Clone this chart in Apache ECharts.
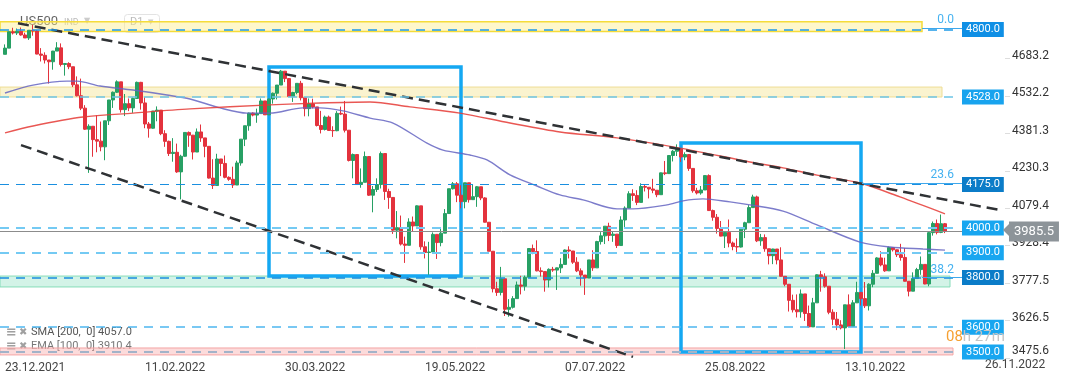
<!DOCTYPE html>
<html><head><meta charset="utf-8">
<script src="https://cdn.jsdelivr.net/npm/echarts@6/dist/echarts.min.js"></script>
<style>html,body{margin:0;padding:0;background:#fff}#c{width:1072px;height:382px}</style>
</head><body><div id="c"></div>
<script>
// ---------- data ----------
const dates = [
'23.12.2021','27.12.2021','28.12.2021','29.12.2021','30.12.2021','31.12.2021',
'03.01.2022','04.01.2022','05.01.2022','06.01.2022','07.01.2022','10.01.2022','11.01.2022','12.01.2022','13.01.2022','14.01.2022','17.01.2022','18.01.2022','19.01.2022','20.01.2022','21.01.2022','24.01.2022','25.01.2022','26.01.2022','27.01.2022','28.01.2022','31.01.2022',
'01.02.2022','02.02.2022','03.02.2022','04.02.2022','07.02.2022','08.02.2022','09.02.2022','10.02.2022','11.02.2022','14.02.2022','15.02.2022','16.02.2022','17.02.2022','18.02.2022','21.02.2022','22.02.2022','23.02.2022','24.02.2022','25.02.2022','28.02.2022',
'01.03.2022','02.03.2022','03.03.2022','04.03.2022','07.03.2022','08.03.2022','09.03.2022','10.03.2022','11.03.2022','13.03.2022','14.03.2022','15.03.2022','16.03.2022','17.03.2022','18.03.2022','20.03.2022','21.03.2022','22.03.2022','23.03.2022','24.03.2022','25.03.2022','28.03.2022','29.03.2022','30.03.2022','31.03.2022',
'01.04.2022','04.04.2022','05.04.2022','06.04.2022','07.04.2022','08.04.2022','11.04.2022','12.04.2022','13.04.2022','14.04.2022','18.04.2022','19.04.2022','20.04.2022','21.04.2022','22.04.2022','25.04.2022','26.04.2022','27.04.2022','28.04.2022','29.04.2022',
'02.05.2022','03.05.2022','04.05.2022','05.05.2022','06.05.2022','09.05.2022','10.05.2022','11.05.2022','12.05.2022','13.05.2022','16.05.2022','17.05.2022','18.05.2022','19.05.2022','20.05.2022','23.05.2022','24.05.2022','25.05.2022','26.05.2022','27.05.2022','30.05.2022','31.05.2022',
'01.06.2022','02.06.2022','03.06.2022','06.06.2022','07.06.2022','08.06.2022','09.06.2022','10.06.2022','13.06.2022','14.06.2022','15.06.2022','16.06.2022','17.06.2022','20.06.2022','21.06.2022','22.06.2022','23.06.2022','24.06.2022','27.06.2022','28.06.2022','29.06.2022','30.06.2022',
'01.07.2022','04.07.2022','05.07.2022','06.07.2022','07.07.2022','08.07.2022','11.07.2022','12.07.2022','13.07.2022','14.07.2022','15.07.2022','18.07.2022','19.07.2022','20.07.2022','21.07.2022','22.07.2022','25.07.2022','26.07.2022','27.07.2022','28.07.2022','29.07.2022',
'01.08.2022','02.08.2022','03.08.2022','04.08.2022','05.08.2022','08.08.2022','09.08.2022','10.08.2022','11.08.2022','12.08.2022','15.08.2022','16.08.2022','17.08.2022','18.08.2022','19.08.2022','22.08.2022','23.08.2022','24.08.2022','25.08.2022','26.08.2022','29.08.2022','30.08.2022','31.08.2022',
'01.09.2022','02.09.2022','05.09.2022','06.09.2022','07.09.2022','08.09.2022','09.09.2022','12.09.2022','13.09.2022','14.09.2022','15.09.2022','16.09.2022','19.09.2022','20.09.2022','21.09.2022','22.09.2022','23.09.2022','26.09.2022','27.09.2022','28.09.2022','29.09.2022','30.09.2022',
'03.10.2022','04.10.2022','05.10.2022','06.10.2022','07.10.2022','10.10.2022','11.10.2022','12.10.2022','13.10.2022','14.10.2022','17.10.2022','18.10.2022','19.10.2022','20.10.2022','21.10.2022','24.10.2022','25.10.2022','26.10.2022','27.10.2022','28.10.2022','30.10.2022','31.10.2022',
'01.11.2022','02.11.2022','03.11.2022','04.11.2022','07.11.2022','08.11.2022','09.11.2022','10.11.2022','11.11.2022','14.11.2022','15.11.2022','16.11.2022'];

const opens = [
4700,4725,4791,4786,4793,4778,
4766,4797,4794,4701,4696,4677,4670,4713,4726,4659,4663,4650,4577,4533,4483,4398,4410,4356,4350,4327,4432,
4516,4547,4589,4477,4501,4484,4522,4587,4504,4419,4402,4471,4475,4380,4349,4300,4305,4226,4289,4385,
4374,4306,4387,4363,4329,4201,4171,4278,4260,4204,4196,4173,4262,4358,4412,4463,4455,4461,4512,4456,4520,4543,4576,4632,4602,
4530,4546,4583,4525,4481,4500,4488,4413,4397,4447,4393,4392,4462,4459,4394,4272,4296,4175,4184,4288,
4132,4155,4175,4300,4147,4123,3991,4001,3935,3930,4024,4008,4089,3924,3901,3903,3974,3941,3979,4058,4158,4178,
4132,4106,4182,4114,4126,4166,4121,4023,3906,3755,3740,3795,3672,3680,3715,3770,3765,3801,3917,3905,3827,3824,
3790,3833,3830,3839,3853,3911,3907,3862,3827,3810,3798,3871,3839,3945,3968,4007,3970,3975,3929,4032,4080,
4138,4131,4103,4167,4164,4157,4152,4134,4222,4219,4292,4309,4317,4286,4296,4240,4150,4141,4153,4211,4070,4043,3998,
3967,3982,3939,3925,3923,3995,4021,4082,4125,3948,3961,3916,3888,3915,3871,3805,3773,3708,3670,3662,3734,3655,
3601,3698,3811,3803,3765,3660,3632,3609,3597,3690,3603,3698,3740,3715,3686,3773,3817,3879,3851,3827,3921,3912,
3892,3881,3785,3745,3796,3832,3853,3774,3981,4018,3982,4017];

const closes = [
4725,4791,4786,4793,4778,4766,
4797,4794,4701,4696,4677,4670,4713,4726,4659,4663,4650,4577,4533,4483,4398,4410,4356,4350,4327,4432,4516,
4547,4589,4477,4501,4484,4522,4587,4504,4419,4402,4471,4475,4380,4349,4300,4305,4226,4289,4385,4374,
4306,4387,4363,4329,4201,4171,4278,4260,4204,4196,4173,4262,4358,4412,4463,4455,4461,4512,4456,4520,4543,4576,4632,4602,4530,
4546,4583,4525,4481,4500,4488,4413,4397,4447,4393,4392,4462,4459,4394,4272,4296,4175,4184,4288,4132,
4155,4175,4300,4147,4123,3991,4001,3935,3930,4024,4008,4089,3924,3901,3903,3974,3941,3979,4058,4158,4178,4132,
4106,4182,4114,4126,4166,4121,4023,3906,3755,3740,3795,3672,3680,3715,3770,3765,3801,3917,3905,3827,3824,3790,
3833,3830,3839,3853,3911,3907,3862,3827,3810,3798,3871,3839,3945,3968,4007,3970,3975,3929,4032,4080,4138,
4131,4103,4167,4164,4157,4152,4134,4222,4219,4292,4309,4317,4286,4296,4240,4150,4141,4153,4211,4070,4043,3998,3967,
3982,3939,3925,3923,3995,4021,4082,4125,3948,3961,3916,3888,3915,3871,3805,3773,3708,3670,3662,3734,3655,3601,
3698,3811,3803,3765,3660,3632,3609,3597,3690,3603,3698,3740,3715,3686,3773,3817,3879,3851,3827,3921,3912,3892,
3881,3785,3745,3796,3832,3853,3774,3981,4018,3982,4017,3985.5];

const lows = [
4700,4725,4780,4778,4775,4766,
4758,4775,4700,4671,4663,4582,4638,4713,4651,4614,4640,4568,4530,4475,4395,4222,4287,4305,4309,4273,4415,
4484,4544,4465,4451,4471,4464,4522,4477,4402,4364,4400,4430,4374,4327,4290,4267,4222,4115,4287,4327,
4276,4306,4347,4285,4199,4157,4171,4209,4200,4190,4161,4173,4251,4330,4392,4450,4424,4461,4456,4456,4501,4518,4576,4588,4530,
4508,4539,4514,4450,4450,4482,4409,4381,4393,4392,4367,4390,4455,4385,4268,4200,4175,4162,4184,4129,
4063,4145,4159,4113,4077,3976,3958,3929,3859,3930,3984,4008,3912,3877,3811,3900,3875,3926,3979,4058,4155,4104,
4079,4079,4102,4114,4085,4112,4022,3906,3740,3726,3728,3645,3642,3675,3715,3732,3747,3801,3894,3825,3804,3743,
3760,3823,3750,3818,3853,3877,3855,3822,3767,3730,3798,3827,3839,3933,3935,3947,3944,3919,3929,4001,4080,
4109,4092,4103,4147,4119,4140,4124,4134,4213,4219,4268,4290,4266,4273,4230,4142,4135,4134,4153,4069,4029,3977,3966,
3919,3922,3910,3901,3921,3959,4021,4082,3943,3928,3904,3853,3854,3853,3804,3765,3663,3659,3639,3638,3625,3599,
3601,3698,3743,3759,3652,3608,3588,3591,3512,3603,3603,3698,3687,3677,3667,3761,3817,3845,3823,3827,3905,3883,
3868,3784,3724,3745,3796,3811,3773,3765,3969,3974,3979,3979];

const highs = [
4740,4791,4807,4804,4808,4787,
4797,4819,4798,4725,4708,4677,4714,4749,4744,4665,4668,4650,4611,4602,4495,4418,4411,4454,4429,4432,4516,
4550,4595,4589,4540,4522,4526,4590,4589,4527,4427,4472,4490,4475,4394,4352,4362,4340,4295,4385,4389,
4375,4401,4417,4363,4329,4277,4299,4278,4292,4208,4247,4271,4358,4412,4465,4466,4481,4522,4512,4521,4546,4576,4637,4632,4604,
4549,4583,4593,4525,4522,4521,4488,4472,4453,4453,4410,4471,4489,4512,4394,4300,4296,4240,4308,4288,
4169,4200,4308,4300,4158,4123,4068,4050,3965,4039,4046,4091,4089,3946,3944,3982,3974,3999,4076,4158,4185,4185,
4172,4182,4182,4174,4169,4166,4124,4023,3906,3783,3843,3795,3713,3725,3784,3807,3808,3919,3933,3950,3841,3824,
3837,3843,3840,3878,3913,3926,3907,3882,3837,3810,3871,3910,3948,3983,4007,4021,3984,3975,4047,4087,4148,
4156,4152,4180,4173,4164,4198,4152,4223,4270,4292,4314,4337,4317,4305,4296,4240,4162,4169,4212,4216,4074,4056,4028,
3986,4034,3945,3958,4002,4025,4092,4134,4130,3976,3974,3916,3916,3915,3922,3805,3773,3731,3732,3752,3734,3687,
3718,3813,3827,3817,3765,3672,3661,3628,3690,3732,3709,3783,3740,3782,3777,3830,3882,3906,3880,3925,3923,3913,
3936,3919,3785,3821,3839,3885,3853,3983,4026,4034,4054,4020];

// moving averages, points as [candle index, value]
const smaPoints = [[0,4383],[7,4411],[19.5,4447],[32,4463],[46.25,4480],[66.25,4496],[78.75,4504],[91.25,4508],[101.25,4488],[113.75,4463],[126.25,4423],[138.75,4387],[153,4363],[168.75,4322],[186.25,4266],[194.5,4242],[203,4213],[213.75,4181],[223.75,4125],[235,4057]];
const emaPoints = [[0,4544],[7,4576],[15.5,4592],[18,4592],[23.75,4572],[32,4556],[40.5,4536],[46.25,4520],[53.75,4484],[60.5,4463],[66.25,4463],[74.5,4484],[78.75,4484],[84.5,4472],[91.25,4443],[97,4423],[105.5,4342],[109.5,4314],[116.25,4294],[120.5,4274],[126.25,4214],[133,4169],[138.75,4133],[144.5,4113],[153,4077],[157,4077],[165.5,4093],[169.5,4109],[174.5,4117],[181.25,4105],[186.25,4093],[194.5,4068],[203,4012],[213.75,3943],[221.25,3923],[229.5,3915],[235,3910.4]];

const xTickDates = ['23.12.2021','11.02.2022','30.03.2022','19.05.2022','07.07.2022','25.08.2022','13.10.2022'];
const xFutureTick = '26.11.2022';
const yTickValues = [3475.6,3626.5,3777.5,3928.4,4079.4,4230.3,4381.3,4532.2,4683.2];
const yTickLabels = ['3475.6','3626.5','3777.5','3928.4','4079.4','4230.3','4381.3','4532.2','4683.2'];
const levelValues = [4800,4528,4175,4000,3900,3800,3600,3500];
const levelLabels = ['4800.0','4528.0','4175.0','4000.0','3900.0','3800.0','3600.0','3500.0'];
const fibValues = [4806,4181,3800];
const fibLabels = ['0.0','23.6','38.2'];
const lastPrice = 3985.5;
const lastPriceLabel = '3985.5';
const smaLegend = 'SMA [200,  0] 4057.0';
const emaLegend = 'EMA [100,  0] 3910.4';
const symbolName = 'US500';

// ---------- drawing annotations (index / price coordinates) ----------
const trendUpper = [[3.25,4825],[248.75,4072]];
const trendLower = [[4,4334],[157,3480]];
const zoneBoxes = [[-1.25,4831,229.25,4792],[-1.25,4568,234.25,4528],[-1.25,3806,236.25,3762],[-1.25,3516,237,3488]];
const zoneStyles = [
  {color:'rgba(252,238,140,0.45)',borderColor:'#f5dc3a',borderWidth:1.5},
  {color:'rgba(246,232,160,0.5)',borderColor:'#eedd95',borderWidth:1},
  {color:'rgba(130,222,185,0.35)',borderColor:'#86dcb9',borderWidth:1},
  {color:'rgba(248,175,175,0.45)',borderColor:'#f4a5a5',borderWidth:1}];
const frameBoxes = [[66,4649,114,3806],[169,4342,214,3500]];
const fibSpans = [[229.25,239.25],[214.25,239.25],[229.25,239.25]];
const levelEnd = 237.5, priceEnd = 249.5, lineStart = -1.25;
const levelColors = ['#1e9be8','#6cc5e6','#1a8fe0','#74caf3','#74caf3','#1a8fe0','#4db6ef','#a2b3c9'];
const levelWidths = [1.5,1.5,1.2,2,2,1.5,1.5,2];
const boxColors = ['#0f8fe5','#18a3ee','#0b7cc8','#18a6f0','#18a6f0','#0b7cc8','#18a6f0','#18a6f0'];

const chart = echarts.init(document.getElementById('c'), null, {renderer:'canvas'});
const ohlc = dates.map((d,i)=>[opens[i],closes[i],lows[i],highs[i]]);
const N = dates.length;
const FONT = 'Roboto';

const markLines = [];
levelValues.forEach((v,i)=>{
  markLines.push([{coord:[lineStart,v],lineStyle:{color:levelColors[i],width:levelWidths[i],type:[9,7]},
    label:{show:true,position:'end',distance:7,formatter:levelLabels[i],color:'#fff',backgroundColor:boxColors[i],
      padding:[2,4,1,4],fontSize:11,lineHeight:12,fontFamily:FONT}},{coord:[levelEnd,v]}]);
});
fibValues.forEach((v,i)=>{
  markLines.push([{coord:[fibSpans[i][0],v],lineStyle:{color:'#3ea8ec',width:1.2,type:'solid'},
    label:{show:true,position:'insideEndTop',distance:2,formatter:fibLabels[i],color:'#45b2f0',fontSize:12,fontFamily:FONT,padding:[0,6,0,0]}},
    {coord:[fibSpans[i][1],v]}]);
});
markLines.push([{coord:[lineStart,lastPrice],lineStyle:{color:'#8c8c8c',width:1,type:'solid'},
  label:{show:true,position:'end',distance:6,formatter:lastPriceLabel,color:'#fff',backgroundColor:'#8d9499',
    padding:[3,5,3,5],fontSize:13,lineHeight:14,fontFamily:FONT}},{coord:[priceEnd,lastPrice]}]);

const markAreas = [];
zoneBoxes.forEach((b,i)=>markAreas.push([{coord:[b[0],b[1]],itemStyle:zoneStyles[i]},{coord:[b[2],b[3]]}]));
frameBoxes.forEach(b=>markAreas.push([{coord:[b[0],b[1]],itemStyle:{color:'rgba(0,0,0,0)',borderColor:'#15a8f2',borderWidth:3.5}},{coord:[b[2],b[3]]}]));

const option = {
  animation:false,
  backgroundColor:'#fff',
  grid:[{left:3,top:0,width:944,height:358},{left:0,top:0,width:1072,height:358}],
  xAxis:[
    {type:'category',gridIndex:0,data:dates,boundaryGap:true,axisLine:{show:false},axisTick:{show:false},splitLine:{show:false},
     axisLabel:{interval:(idx,val)=>xTickDates.includes(val),align:'left',margin:4,color:'#444',fontSize:12,fontFamily:FONT}},
    {type:'value',gridIndex:1,min:-1.25,max:266.75,show:false}
  ],
  yAxis:[
    {type:'value',gridIndex:0,min:3475.6,max:4919,position:'right',offset:58,scale:true,
     axisLine:{show:false},splitLine:{show:false},
     axisTick:{show:true,length:5,lineStyle:{color:'#dddddd'},customValues:yTickValues},
     axisLabel:{customValues:yTickValues,margin:7,color:'#333',fontSize:12,fontFamily:FONT,
       formatter:(v)=>{const s=yTickLabels.find(t=>Math.abs(parseFloat(t)-v)<0.05)||'';return (s===yTickLabels[0]?'{b|':'{a|')+s+'}';},
       rich:{a:{padding:[0,0,5,0],color:'#333',fontSize:12,fontFamily:FONT},b:{padding:[0,0,14,0],color:'#333',fontSize:12,fontFamily:FONT}}}},
    {type:'value',gridIndex:1,min:3475.6,max:4919,show:false}
  ],
  series:[
    {type:'candlestick',xAxisIndex:0,yAxisIndex:0,data:ohlc,barWidth:3,z:2,
     itemStyle:{color:'#27a064',color0:'#e3323d',borderColor:'#27a064',borderColor0:'#e3323d',borderWidth:1}},
    {type:'line',xAxisIndex:1,yAxisIndex:1,data:emaPoints,smooth:0.3,symbol:'none',z:3,
     lineStyle:{color:'#6565c2',width:1.4,opacity:0.85}},
    {type:'line',xAxisIndex:1,yAxisIndex:1,data:smaPoints,smooth:0.3,symbol:'none',z:3,
     lineStyle:{color:'#e53935',width:1.4,opacity:0.85}},
    {type:'line',xAxisIndex:1,yAxisIndex:1,data:trendLower,symbol:'none',z:4,
     lineStyle:{color:'#2f3235',width:2.5,type:[11,6]}},
    {type:'line',xAxisIndex:1,yAxisIndex:1,data:trendUpper,symbol:'none',z:4,
     lineStyle:{color:'#2f3235',width:2.5,type:[11,6]},
     markLine:{silent:true,symbol:['none','none'],data:markLines},
     markArea:{silent:true,data:markAreas}}
  ],
  graphic:[
    {type:'text',left:20,top:15,z:0,style:{text:symbolName,fill:'rgba(60,60,60,0.8)',font:'13px Roboto'}},
    {type:'text',left:64,top:18,z:0,style:{text:'IND',fill:'#bbbbbb',font:'9px Roboto'}},
    {type:'text',left:84,top:17,z:0,style:{text:'▼',fill:'#cccccc',font:'8px DejaVu Sans'}},
    {type:'rect',left:124,top:14,z:0,shape:{width:35,height:18,r:3},style:{fill:'rgba(255,255,255,0.7)',stroke:'#e3e3e3'}},
    {type:'text',left:130,top:17,z:0,style:{text:'D1',fill:'#bbbbbb',font:'11px Roboto'}},
    {type:'text',left:148,top:19,z:0,style:{text:'▼',fill:'#cccccc',font:'7px DejaVu Sans'}},
    {type:'text',left:6,top:326,z:0,style:{text:'≡',fill:'#a0a0a0',font:'bold 13px DejaVu Sans'}},
    {type:'text',left:19,top:327,z:0,style:{text:'✖',fill:'#a0a0a0',font:'10px DejaVu Sans'}},
    {type:'text',left:31,top:327,z:0,style:{text:smaLegend,fill:'#555',font:'11px Roboto'}},
    {type:'text',left:6,top:340,z:0,style:{text:'≡',fill:'#a0a0a0',font:'bold 13px DejaVu Sans'}},
    {type:'text',left:19,top:341,z:0,style:{text:'✖',fill:'#a0a0a0',font:'10px DejaVu Sans'}},
    {type:'text',left:31,top:341,z:0,style:{text:emaLegend,fill:'#777',font:'11px Roboto'}},
    {type:'text',left:985,top:359,z:0,style:{text:xFutureTick,fill:'#444',font:'12px Roboto'}},
    {type:'polygon',z:10,shape:{points:[[1003,230],[1010,223],[1010,237]]},style:{fill:'#8d9499'}},
    {type:'text',left:946,top:330,z:10,style:{text:'{o|08}{g|h 27m}',rich:{o:{fill:'#f6a031',font:'15px Roboto'},g:{fill:'#c4c4c4',font:'15px Roboto'}}}}
  ]
};
chart.setOption(option);
</script>
</body></html>
